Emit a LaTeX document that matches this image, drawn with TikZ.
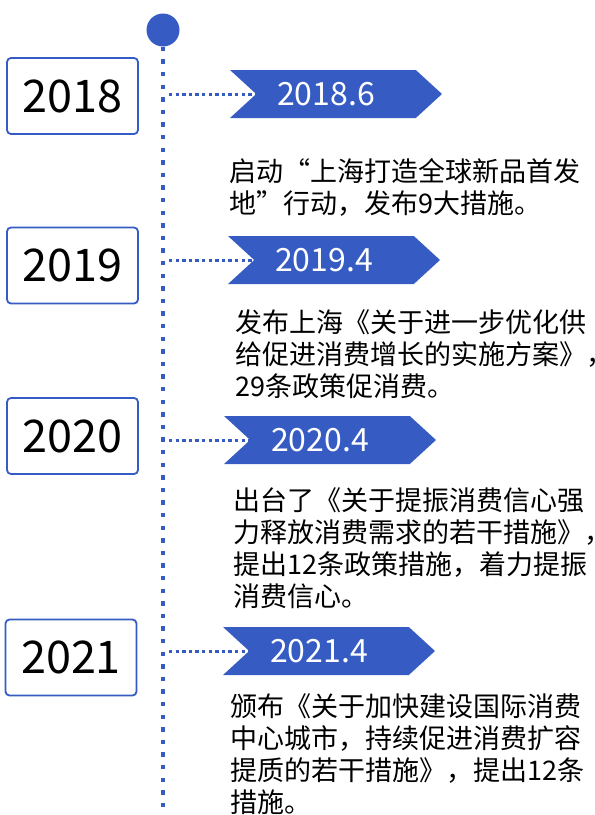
\documentclass[tikz,border=0pt]{standalone}
\usepackage{fontspec}
\setmainfont{Noto Sans CJK SC}
\usetikzlibrary{shapes.symbols}
\definecolor{tlblue}{RGB}{54,92,196}

\begin{document}
\begin{tikzpicture}[x=1pt,y=-1pt,
	yearbox/.style={draw=tlblue, line width=1.8pt, rounded corners=4pt, fill=white, minimum width=131pt, minimum height=76pt, inner sep=0pt, font=\fontsize{45}{45}\selectfont},
	datetag/.style={signal, signal from=west, signal to=east, signal pointer angle=85, fill=tlblue, text=white, minimum width=212pt, minimum height=48pt, inner sep=0pt, font=\fontsize{32}{32}\selectfont, execute at begin node=\hspace*{-10pt}, execute at end node=\hspace*{10pt}},
	note/.style={anchor=base west, align=left, inner sep=0pt, font=\fontsize{27}{32}\selectfont},
	spine/.style={tlblue, line width=4.5pt, dash pattern=on 4.5pt off 8.1pt},
	link/.style={tlblue, line width=3pt, dash pattern=on 3.3pt off 3.3pt}]
		\useasboundingbox (0,0) rectangle (595,815);

		\draw (163,30) node[circle, fill=tlblue, minimum size=33pt, inner sep=0pt] (top) {};
		\coordinate (bottom) at (163,815);
		\draw[spine] (top.south) -- (bottom);

		\draw (72.5,96) node[yearbox] (y2018) {2018};
		\draw (336,94) node[datetag] (d2018) {2018.6};
		\draw (229,213) node[note] (t2018) {启动“上海打造全球新品首发\\地”行动，发布9大措施。};
		\coordinate (j2018) at (169,94);
		\draw[link] (j2018) -- (d2018.west);

		\draw (72.5,265.5) node[yearbox] (y2019) {2019};
		\draw (334,260) node[datetag] (d2019) {2019.4};
		\draw (235,396) node[note] (t2019) {发布上海《关于进一步优化供\\给促进消费增长的实施方案》，\\29条政策促消费。};
		\coordinate (j2019) at (169,260);
		\draw[link] (j2019) -- (d2019.west);

		\draw (72.5,436) node[yearbox] (y2020) {2020};
		\draw (330,440) node[datetag] (d2020) {2020.4};
		\draw (233,606) node[note] (t2020) {出台了《关于提振消费信心强\\力释放消费需求的若干措施》，\\提出12条政策措施，着力提振\\消费信心。};
		\coordinate (j2020) at (169,440);
		\draw[link] (j2020) -- (d2020.west);

		\draw (71,657.5) node[yearbox] (y2021) {2021};
		\draw (329,651) node[datetag] (d2021) {2021.4};
		\draw (230,812) node[note] (t2021) {颁布《关于加快建设国际消费\\中心城市，持续促进消费扩容\\提质的若干措施》，提出12条\\措施。};
		\coordinate (j2021) at (169,651);
		\draw[link] (j2021) -- (d2021.west);
	\end{tikzpicture}
\end{document}
